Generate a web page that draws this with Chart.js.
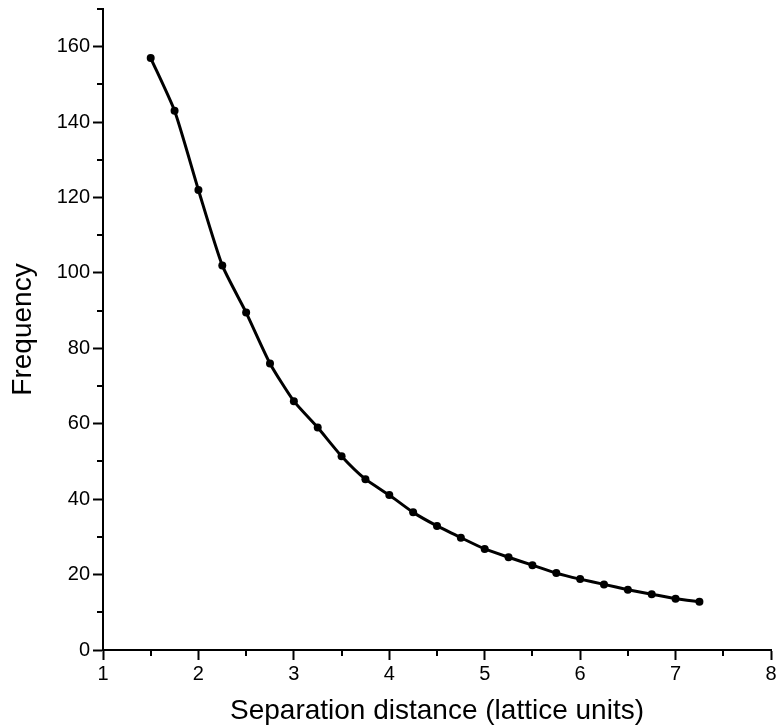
<!DOCTYPE html>
<html>
<head>
<meta charset="utf-8">
<script src="https://cdn.jsdelivr.net/npm/chart.js@4.4.1/dist/chart.umd.min.js"></script>
<style>
  html, body { margin: 0; padding: 0; background: #fff; }
  #wrap { width: 778px; height: 728px; }
</style>
</head>
<body>
<div id="wrap"><canvas id="chart" width="778" height="728"></canvas></div>
<script>
// separation distance (lattice units)
const distances = [1.5, 1.75, 2, 2.25, 2.5, 2.75, 3, 3.25, 3.5, 3.75, 4, 4.25,
  4.5, 4.75, 5, 5.25, 5.5, 5.75, 6, 6.25, 6.5, 6.75, 7, 7.25];
// frequency
const frequency = [157, 143, 122, 102, 89.5, 76, 66, 59, 51.4, 45.3, 41.1, 36.5,
  32.9, 29.8, 26.8, 24.6, 22.5, 20.4, 18.8, 17.4, 16.0, 14.8, 13.6, 12.8];

const xMinorTicks = [1.5, 2.5, 3.5, 4.5, 5.5, 6.5, 7.5];
const yMinorTicks = [10, 30, 50, 70, 90, 110, 130, 150, 170];

const fontFamily = '"Liberation Sans", Arial, sans-serif';

// minor ticks are shorter than the major ones, chart.js can't do that itself
const minorTicks = {
  id: 'minorTicks',
  afterDraw(chart) {
    const ctx = chart.ctx;
    const xs = chart.scales.x;
    const ys = chart.scales.y;
    const len = 6;
    ctx.save();
    ctx.strokeStyle = '#000';
    ctx.lineWidth = 2;
    ctx.beginPath();
    xMinorTicks.forEach(v => {
      const px = Math.round(xs.getPixelForValue(v));
      ctx.moveTo(px, xs.top);
      ctx.lineTo(px, xs.top + len);
    });
    yMinorTicks.forEach(v => {
      const py = Math.round(ys.getPixelForValue(v));
      ctx.moveTo(ys.right, py);
      ctx.lineTo(ys.right - len, py);
    });
    ctx.stroke();
    ctx.restore();
  }
};

const points = distances.map((d, i) => ({ x: d, y: frequency[i] }));

new Chart(document.getElementById('chart'), {
  type: 'line',
  data: {
    datasets: [{
      data: points,
      borderColor: '#000',
      backgroundColor: '#000',
      borderWidth: 3,
      pointRadius: 4,
      pointBorderWidth: 0,
      tension: 0.2,
      fill: false,
    }],
  },
  options: {
    responsive: false,
    animation: false,
    layout: { padding: { top: 9, right: 7, left: 0, bottom: 0 } },
    plugins: {
      legend: { display: false },
      tooltip: { enabled: false },
    },
    scales: {
      x: {
        type: 'linear',
        min: 1,
        max: 8,
        afterFit: scale => {
          scale.height = 78;
          scale.paddingLeft = 0;
          scale.paddingRight = 0;
        },
        border: { display: true, color: '#000', width: 2 },
        grid: { drawOnChartArea: false, drawTicks: true, tickLength: 10, tickWidth: 2, tickColor: '#000' },
        ticks: { stepSize: 1, color: '#000', padding: 2, font: { family: fontFamily, size: 20 } },
        title: {
          display: true,
          text: 'Separation distance (lattice units)',
          color: '#000',
          font: { family: fontFamily, size: 28, lineHeight: 1 },
          padding: { top: 0, bottom: 3 },
        },
      },
      y: {
        min: 0,
        max: 170,
        afterFit: scale => {
          scale.width = 103;
          scale.paddingTop = 0;
          scale.paddingBottom = 0;
        },
        afterBuildTicks: scale => {
          scale.ticks = scale.ticks.filter(t => t.value % 20 === 0);
        },
        border: { display: true, color: '#000', width: 2 },
        grid: { drawOnChartArea: false, drawTicks: true, tickLength: 10, tickWidth: 2, tickColor: '#000' },
        ticks: { stepSize: 20, color: '#000', padding: 3, font: { family: fontFamily, size: 20 } },
        title: {
          display: true,
          text: 'Frequency',
          color: '#000',
          font: { family: fontFamily, size: 28, lineHeight: 1 },
          padding: { top: 9, bottom: 0 },
        },
      },
    },
  },
  plugins: [minorTicks],
});
</script>
</body>
</html>
